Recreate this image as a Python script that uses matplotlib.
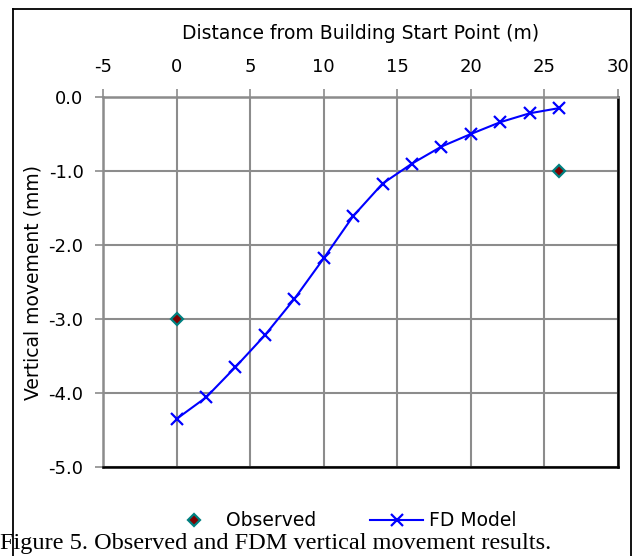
import matplotlib.pyplot as plt
from matplotlib.lines import Line2D

# data
fd_x = [0, 2, 4, 6, 8, 10, 12, 14, 16, 18, 20, 22, 24, 26]
fd_y = [-4.35, -4.06, -3.65, -3.22, -2.73, -2.18, -1.61, -1.17,
        -0.90, -0.67, -0.50, -0.34, -0.22, -0.15]
obs_x = [0, 26]
obs_y = [-3.0, -1.0]
x_ticks = [-5, 0, 5, 10, 15, 20, 25, 30]
y_ticks = [0.0, -1.0, -2.0, -3.0, -4.0, -5.0]

plt.rcParams['font.family'] = ['DejaVu Sans']
plt.rcParams['axes.unicode_minus'] = False

fig = plt.figure(figsize=(6.39, 5.56), dpi=100, facecolor='white')
ax = fig.add_axes([103/639, 1 - 467/556, (618 - 103)/639, (467 - 97)/556])

grid_c = '#8c8c8c'
fs = 13
ax.plot(fd_x, fd_y, color='#0000ff', lw=1.5, marker='x', ms=9, mew=1.6,
        label='FD Model', zorder=3)
ax.plot(obs_x, obs_y, ls='none', marker='D', ms=6.5, mfc='#800000',
        mec='#008080', mew=1.6, label='Observed', zorder=4, clip_on=False)

ax.set_xlim(-5, 30)
ax.set_ylim(-5, 0)
ax.set_xticks(x_ticks)
ax.set_yticks(y_ticks)
ax.set_yticklabels(['%.1f' % v for v in y_ticks])
ax.xaxis.tick_top()
ax.xaxis.set_label_position('top')
ax.grid(True, color=grid_c, lw=1.5)
ax.set_axisbelow(True)

ax.tick_params(axis='x', direction='out', length=6, width=1.2, color=grid_c,
               pad=9, labelsize=fs)
ax.tick_params(axis='y', direction='out', length=6, width=1.2, color=grid_c,
               pad=8, labelsize=fs)
ax.set_xlabel('Distance from Building Start Point (m)', fontsize=13.5,
              labelpad=14)
ax.set_ylabel('Vertical movement (mm)', fontsize=13.5, labelpad=4)

for s in ['top', 'left']:
    ax.spines[s].set_color(grid_c)
    ax.spines[s].set_linewidth(1.8)
for s in ['bottom', 'right']:
    ax.spines[s].set_color('black')
    ax.spines[s].set_linewidth(1.8)

handles = [
    Line2D([], [], ls='none', marker='D', ms=6.5, mfc='#800000',
           mec='#008080', mew=1.6),
    Line2D([], [], color='#0000ff', lw=1.5, marker='x', ms=9, mew=1.6),
]
fig.legend(handles, ['Observed', 'FD Model'], loc='center',
           bbox_to_anchor=(0.535, 0.063), ncol=2, frameon=False,
           fontsize=13.5, handlelength=2.8, handletextpad=0.3,
           columnspacing=2.9)

# outer chart border (bottom edge falls off the picture)
fig.add_artist(Line2D([13/639, 13/639], [0, 1 - 9/556], color='black',
                      lw=1.3, transform=fig.transFigure))
fig.add_artist(Line2D([631/639, 631/639], [0, 1 - 9/556], color='black',
                      lw=1.3, transform=fig.transFigure))
fig.add_artist(Line2D([13/639, 631/639], [1 - 9/556, 1 - 9/556],
                      color='black', lw=1.3, transform=fig.transFigure))

fig.text(0.0, 0.012, 'Figure 5. Observed and FDM vertical movement results.',
         family='Liberation Serif', fontsize=17.5, va='baseline', ha='left')

fig.savefig('out.png', dpi=100)
